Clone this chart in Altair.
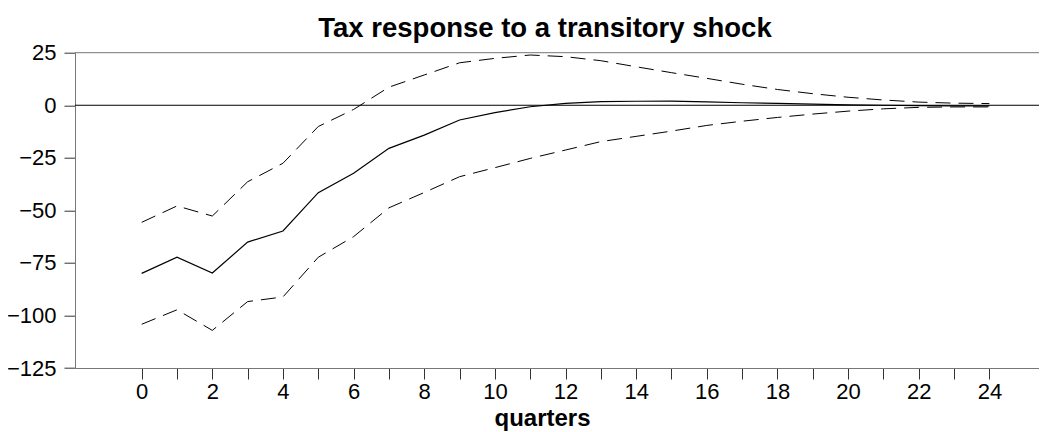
import altair as alt
import pandas as pd

# ---- data ----
quarters = list(range(25))
response = [-80.0, -72.3, -79.8, -65.1, -59.8, -41.6, -32.4, -20.5, -14.2, -7.0,
            -3.5, -0.7, 0.9, 1.7, 1.9, 2.0, 1.6, 1.2, 0.9, 0.5,
            0.2, 0.0, -0.2, -0.3, -0.3]
upper = [-55.7, -47.9, -52.7, -36.4, -27.6, -10.1, -2.0, 8.6, 14.4, 20.2,
         22.3, 23.9, 23.1, 21.2, 18.3, 15.5, 12.8, 10.0, 7.5, 5.5,
         3.8, 2.5, 1.5, 1.0, 0.8]
lower = [-104.2, -97.3, -107.1, -93.4, -91.2, -72.3, -62.5, -48.8, -41.5, -34.0,
         -29.7, -25.3, -21.3, -17.3, -14.8, -12.3, -9.6, -7.6, -5.8, -4.2,
         -2.8, -1.7, -1.0, -0.8, -0.8]
y_ticks = [-125, -100, -75, -50, -25, 0, 25]
x_ticks = list(range(25))
title_text = "Tax response to a transitory shock"
x_title = "quarters"

FONT = "Liberation Sans"

solid_df = pd.DataFrame({"quarter": quarters, "value": response})
band_df = pd.concat([
    pd.DataFrame({"quarter": quarters, "value": upper, "series": "upper"}),
    pd.DataFrame({"quarter": quarters, "value": lower, "series": "lower"}),
])

x_scale = alt.Scale(domain=[-1.888, 25.405], nice=False, zero=False)
y_scale = alt.Scale(domain=[-125, 25], nice=False, zero=False)

x_enc = alt.X(
    "quarter:Q", scale=x_scale,
    axis=alt.Axis(
        values=x_ticks,
        labelExpr="datum.value % 2 === 0 ? datum.label : ''",
        title=x_title, titleFontSize=24, titleFontWeight="bold", titleFont=FONT,
        titleColor="black", titleBaseline="alphabetic", titleX=467, titleY=57,
        titleAnchor="start", titleAlign="center",
        labelFontSize=22, labelFont=FONT, labelColor="black", labelPadding=2,
        tickSize=11, tickColor="#333333", domainColor="#777777", grid=False,
        labelFlush=False, labelOverlap=False,
    ),
)
y_enc = alt.Y(
    "value:Q", scale=y_scale,
    axis=alt.Axis(
        values=y_ticks, title=None,
        labelFontSize=22, labelFont=FONT, labelColor="black", labelPadding=8,
        tickSize=11, tickColor="#333333", domainColor="#777777", grid=False,
        labelFlush=False, labelOverlap=False,
    ),
)

top_rule = alt.Chart(pd.DataFrame({"y": [25]})).mark_rule(
    color="#777777", strokeWidth=1
).encode(y=alt.Y("y:Q", scale=y_scale))

zero_rule = alt.Chart(pd.DataFrame({"y": [0]})).mark_rule(
    color="black", strokeWidth=1
).encode(y=alt.Y("y:Q", scale=y_scale))

dashed = alt.Chart(band_df).mark_line(
    color="black", strokeWidth=1, strokeDash=[15, 8]
).encode(x=x_enc, y=y_enc, detail="series:N")

solid = alt.Chart(solid_df).mark_line(
    color="black", strokeWidth=1.2
).encode(x=x_enc, y=y_enc)

title_mark = alt.Chart(pd.DataFrame({"t": [title_text]})).mark_text(
    font=FONT, fontSize=27.5, fontWeight="bold", color="black",
    align="center", baseline="alphabetic",
).encode(text="t:N", x=alt.value(470), y=alt.value(-16))

chart = alt.layer(top_rule, zero_rule, dashed, solid, title_mark).properties(
    width=964,
    height=315.3,
    autosize=alt.AutoSizeParams(type="none"),
    padding={"left": 67, "top": 44.7, "right": 0, "bottom": 64},
).configure_view(strokeWidth=0)

chart.save("out.html", embed_options={"renderer": "svg", "actions": False})
